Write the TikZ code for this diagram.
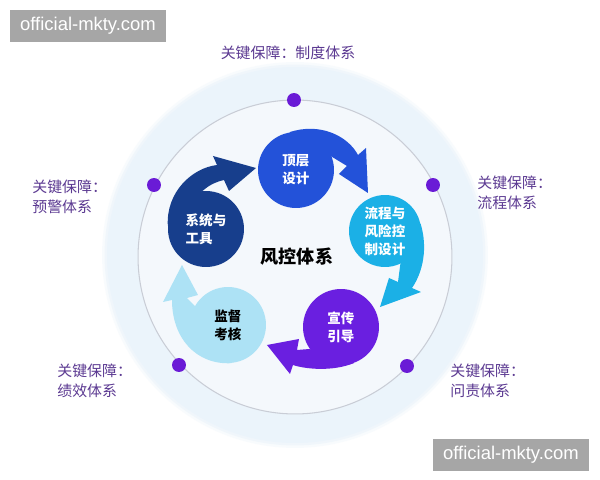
\documentclass[tikz,border=0pt]{standalone}
\usepackage{fontspec}
\setmainfont{Noto Sans CJK SC}
\newfontfamily\markfont{Liberation Sans}
\usetikzlibrary{positioning,backgrounds}
\definecolor{toplevel}{HTML}{2352D9}
\definecolor{process}{HTML}{1BB0E6}
\definecolor{publicity}{HTML}{6A1FE0}
\definecolor{supervise}{HTML}{ADE2F5}
\definecolor{systems}{HTML}{173E8C}
\definecolor{dotpurple}{HTML}{6A1BD6}
\definecolor{guardtext}{HTML}{5C3A92}
\definecolor{glow}{HTML}{EBF4FB}
\definecolor{core}{HTML}{F4F8FC}
\definecolor{ring}{HTML}{C9CDD6}
\definecolor{markgray}{HTML}{A6A6A6}

\begin{document}
\begin{tikzpicture}[
  x=0.02cm, y=-0.02cm,
  bubble/.style={circle, minimum size=1.52cm, inner sep=0pt, align=center, text=white, font=\fontsize{7.7}{10.2}\selectfont\bfseries},
  keydot/.style={circle, fill=dotpurple, minimum size=0.28cm, inner sep=0pt},
  guard/.style={align=left, anchor=west, text=guardtext, font=\fontsize{8.5}{11.3}\selectfont, inner sep=0pt},
  watermark/.style={fill=markgray, text=white, minimum width=3.14cm, minimum height=0.64cm, inner sep=0pt, font=\markfont\fontsize{10.5}{12}\selectfont},
]
\useasboundingbox (0,0) rectangle (600,480);

% halo and ring
\begin{scope}[on background layer]
\fill[white] (0,0) rectangle (600,480);
\foreach \r/\op in {3.86/0.3, 3.81/0.6, 3.76/1}
  \fill[glow, opacity=\op] (295,255) circle[radius=\r cm];
\draw[ring, line width=0.6pt, fill=core] (295,257) circle[radius=3.14cm];
\end{scope}

% key points on the ring
\node[keydot] (kTop) at (294,100) {};
\node[keydot] (kRight) at (433,185) {};
\node[keydot] (kLowRight) at (407,366) {};
\node[keydot] (kLowLeft) at (179,365) {};
\node[keydot] (kLeft) at (154,185) {};

\node[guard, anchor=center] (gTop) at (288,53) {关键保障：制度体系};
\node[guard] (gLeft) at (32,197) {关键保障：\\预警体系};
\node[guard] (gRight) at (477,193) {关键保障：\\流程体系};
\node[guard] (gLowLeft) at (57,381) {关键保障：\\绩效体系};
\node[guard] (gLowRight) at (450,381) {关键保障：\\问责体系};

% the five stages
\node[bubble, fill=toplevel] (design) at (296,170) {顶层\\设计};
\node[bubble, fill=process, minimum size=1.44cm] (flow) at (385,231) {流程与\\风险控\\制设计};
\node[bubble, fill=publicity] (guide) at (341,327) {宣传\\引导};
\node[bubble, fill=supervise, text=black] (audit) at (228,325) {监督\\考核};
\node[bubble, fill=systems, align=left] (tools) at (206,229) {系统与\\工具};

\node[font=\fontsize{10.3}{12}\selectfont\bfseries] (core) at (297,257) {风控体系};

% swirling tails: band, then head (barb, tip, barb)
\begin{scope}[on background layer]
\fill[toplevel] (design.100) .. controls (320,122) and (348,136) .. (358,155) -- (366,148) -- (368,193) -- (339,174) -- (347,166) -- (design.20) -- cycle;
\fill[process] (flow.12) .. controls (428,248) and (423,272) .. (412,288) -- (421,292) -- (380,307) -- (389,278) -- (398,282) -- (flow.-65) -- cycle;
\fill[publicity] (guide.-70) .. controls (332,372) and (305,369) .. (293,365) -- (290,374) -- (267,345) -- (299,339) -- (297,350) -- (guide.215) -- cycle;
\fill[supervise] (audit.-85) .. controls (196,365) and (172,338) .. (172,300) -- (163,302) -- (182,265) -- (198,295) -- (187,298) -- (audit.150) -- cycle;
\fill[systems] (tools.175) .. controls (166,192) and (192,168) .. (217,165) -- (213,156) -- (256,168) -- (229,191) -- (224,180) .. controls (215,182) and (208,186) .. (tools.95) -- cycle;
\end{scope}

\node[watermark] (markA) at (88,26) {official-mkty.com};
\node[watermark] (markB) at (511,455) {official-mkty.com};
\end{tikzpicture}
\end{document}
